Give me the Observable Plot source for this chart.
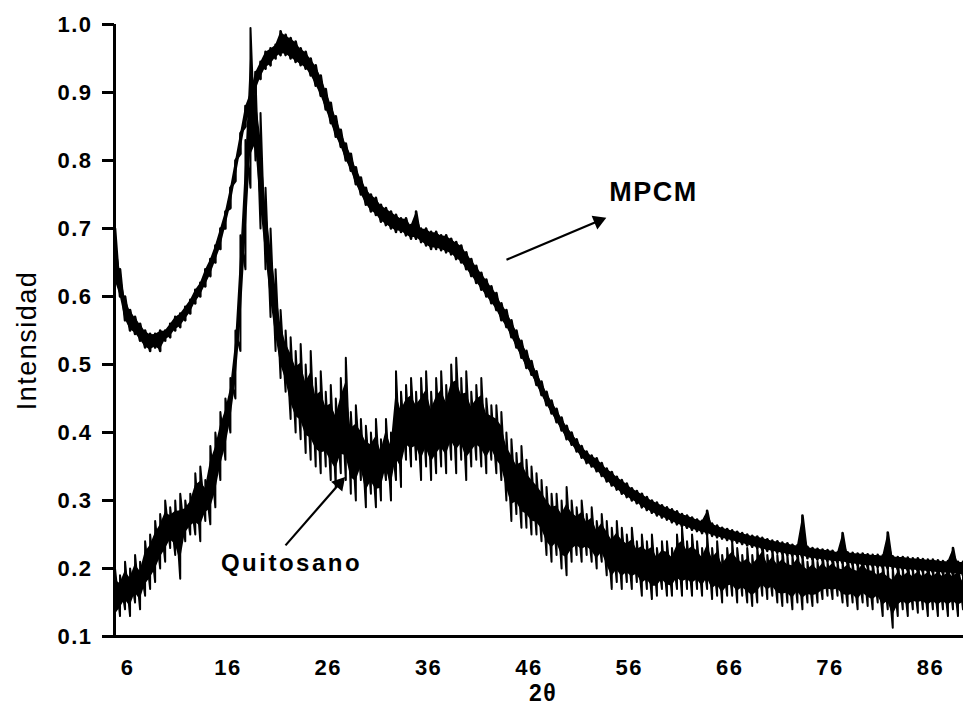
<!DOCTYPE html>
<html><head><meta charset="utf-8">
<script src="https://cdn.jsdelivr.net/npm/d3@7"></script>
<script src="https://cdn.jsdelivr.net/npm/@observablehq/plot@0.6"></script>
<style>body{margin:0;background:#fff;}</style>
</head><body><div id="chart"></div>
<script>
// 2θ sample positions
const twoTheta = [
4.75,5.25,5.75,6.25,6.75,7.25,7.75,8.25,8.75,9.25,
9.75,10.25,10.75,11.25,11.75,12.25,12.75,13.25,13.75,14.25,
14.75,15.25,15.75,16.25,16.75,17.25,17.75,18.25,18.75,19.25,
19.75,20.25,20.75,21.25,21.75,22.25,22.75,23.25,23.75,24.25,
24.75,25.25,25.75,26.25,26.75,27.25,27.75,28.25,28.75,29.25,
29.75,30.25,30.75,31.25,31.75,32.25,32.75,33.25,33.75,34.25,
34.75,35.25,35.75,36.25,36.75,37.25,37.75,38.25,38.75,39.25,
39.75,40.25,40.75,41.25,41.75,42.25,42.75,43.25,43.75,44.25,
44.75,45.25,45.75,46.25,46.75,47.25,47.75,48.25,48.75,49.25,
49.75,50.25,50.75,51.25,51.75,52.25,52.75,53.25,53.75,54.25,
54.75,55.25,55.75,56.25,56.75,57.25,57.75,58.25,58.75,59.25,
59.75,60.25,60.75,61.25,61.75,62.25,62.75,63.25,63.75,64.25,
64.75,65.25,65.75,66.25,66.75,67.25,67.75,68.25,68.75,69.25,
69.75,70.25,70.75,71.25,71.75,72.25,72.75,73.25,73.75,74.25,
74.75,75.25,75.75,76.25,76.75,77.25,77.75,78.25,78.75,79.25,
79.75,80.25,80.75,81.25,81.75,82.25,82.75,83.25,83.75,84.25,
84.75,85.25,85.75,86.25,86.75,87.25,87.75,88.25,88.75,89.25];

// Quitosano: lower / upper edge of the noisy trace
const quitosanoLow = [
0.115,0.13,0.14,0.13,0.15,0.14,0.16,0.17,0.18,0.20,
0.21,0.23,0.22,0.185,0.24,0.25,0.25,0.24,0.27,0.265,
0.29,0.33,0.36,0.40,0.45,0.52,0.64,0.76,0.80,0.70,
0.64,0.57,0.52,0.48,0.46,0.42,0.40,0.39,0.37,0.36,
0.35,0.34,0.35,0.33,0.32,0.34,0.33,0.31,0.30,0.33,
0.29,0.31,0.29,0.30,0.33,0.30,0.33,0.32,0.36,0.35,
0.36,0.33,0.35,0.33,0.34,0.35,0.34,0.36,0.34,0.36,
0.33,0.35,0.36,0.35,0.34,0.36,0.34,0.33,0.30,0.27,
0.28,0.26,0.26,0.25,0.25,0.24,0.22,0.21,0.22,0.20,
0.19,0.21,0.22,0.21,0.22,0.21,0.20,0.21,0.19,0.17,
0.18,0.17,0.18,0.17,0.18,0.16,0.17,0.155,0.16,0.17,
0.16,0.16,0.17,0.16,0.17,0.16,0.17,0.16,0.17,0.155,
0.16,0.15,0.16,0.16,0.15,0.16,0.15,0.145,0.15,0.16,
0.155,0.16,0.15,0.145,0.15,0.14,0.15,0.14,0.15,0.145,
0.15,0.155,0.16,0.155,0.16,0.15,0.145,0.15,0.14,0.15,
0.145,0.14,0.15,0.13,0.14,0.113,0.13,0.14,0.13,0.14,
0.135,0.14,0.13,0.14,0.13,0.14,0.13,0.14,0.13,0.14];
const quitosanoHigh = [
0.20,0.19,0.21,0.20,0.22,0.21,0.24,0.25,0.27,0.28,
0.30,0.29,0.30,0.31,0.30,0.31,0.34,0.35,0.33,0.38,
0.40,0.43,0.45,0.48,0.55,0.69,0.83,0.995,0.92,0.87,
0.76,0.70,0.64,0.58,0.55,0.54,0.52,0.53,0.50,0.52,
0.48,0.49,0.46,0.47,0.45,0.48,0.51,0.43,0.44,0.42,
0.41,0.40,0.42,0.39,0.42,0.40,0.49,0.46,0.47,0.48,
0.46,0.48,0.49,0.46,0.48,0.49,0.47,0.50,0.51,0.48,
0.49,0.46,0.47,0.48,0.45,0.44,0.44,0.43,0.40,0.39,
0.37,0.38,0.36,0.35,0.34,0.33,0.32,0.31,0.31,0.30,
0.32,0.30,0.29,0.30,0.28,0.29,0.27,0.28,0.27,0.26,
0.27,0.26,0.25,0.26,0.24,0.25,0.24,0.25,0.23,0.24,
0.24,0.23,0.25,0.26,0.24,0.25,0.24,0.23,0.25,0.23,
0.24,0.22,0.23,0.24,0.23,0.22,0.23,0.22,0.23,0.24,
0.22,0.23,0.22,0.23,0.22,0.22,0.23,0.22,0.21,0.22,
0.21,0.22,0.21,0.22,0.21,0.21,0.22,0.21,0.21,0.22,
0.21,0.21,0.20,0.21,0.20,0.20,0.21,0.20,0.21,0.20,
0.21,0.20,0.21,0.20,0.21,0.20,0.21,0.20,0.21,0.19];

// MPCM: lower / upper edge of the noisy trace
const mpcmLow = [
0.62,0.60,0.565,0.55,0.545,0.535,0.525,0.52,0.525,0.52,
0.535,0.54,0.55,0.555,0.565,0.575,0.59,0.60,0.615,0.63,
0.65,0.67,0.70,0.73,0.77,0.81,0.85,0.87,0.90,0.92,
0.935,0.94,0.95,0.955,0.955,0.95,0.945,0.94,0.935,0.925,
0.91,0.895,0.875,0.855,0.835,0.82,0.80,0.785,0.765,0.75,
0.735,0.725,0.72,0.71,0.705,0.70,0.695,0.695,0.69,0.685,
0.685,0.68,0.675,0.67,0.67,0.668,0.665,0.662,0.655,0.65,
0.64,0.63,0.62,0.61,0.60,0.59,0.58,0.565,0.555,0.54,
0.525,0.51,0.495,0.485,0.47,0.455,0.44,0.428,0.415,0.403,
0.39,0.382,0.372,0.363,0.355,0.35,0.343,0.336,0.328,0.322,
0.316,0.31,0.305,0.30,0.296,0.29,0.286,0.282,0.278,0.275,
0.272,0.268,0.265,0.262,0.26,0.257,0.255,0.252,0.25,0.248,
0.246,0.244,0.242,0.24,0.238,0.236,0.234,0.232,0.23,0.228,
0.226,0.225,0.223,0.222,0.22,0.219,0.218,0.216,0.215,0.214,
0.213,0.212,0.211,0.21,0.209,0.208,0.207,0.206,0.205,0.204,
0.203,0.203,0.202,0.201,0.2,0.2,0.199,0.198,0.197,0.197,
0.196,0.195,0.195,0.194,0.193,0.193,0.192,0.191,0.19,0.19];
const mpcmHigh = [
0.70,0.64,0.60,0.58,0.57,0.56,0.55,0.545,0.545,0.55,
0.55,0.56,0.57,0.575,0.585,0.595,0.61,0.62,0.64,0.655,
0.675,0.70,0.725,0.76,0.80,0.84,0.88,0.90,0.93,0.945,
0.96,0.965,0.97,0.99,0.985,0.98,0.975,0.965,0.96,0.95,
0.94,0.925,0.905,0.885,0.865,0.845,0.825,0.81,0.79,0.775,
0.76,0.75,0.745,0.735,0.73,0.725,0.72,0.715,0.715,0.705,
0.725,0.70,0.70,0.695,0.695,0.69,0.69,0.685,0.68,0.675,
0.665,0.655,0.645,0.635,0.625,0.615,0.605,0.59,0.58,0.565,
0.55,0.535,0.52,0.505,0.49,0.475,0.46,0.447,0.435,0.422,
0.41,0.40,0.39,0.38,0.372,0.366,0.362,0.355,0.347,0.342,
0.335,0.33,0.325,0.318,0.314,0.31,0.305,0.30,0.297,0.293,
0.29,0.287,0.284,0.28,0.278,0.275,0.272,0.27,0.285,0.266,
0.263,0.26,0.258,0.256,0.254,0.252,0.25,0.248,0.247,0.245,
0.243,0.241,0.24,0.238,0.237,0.235,0.234,0.278,0.232,0.23,
0.229,0.228,0.227,0.226,0.224,0.252,0.224,0.223,0.222,0.222,
0.221,0.22,0.22,0.219,0.253,0.218,0.217,0.217,0.216,0.215,
0.215,0.214,0.213,0.213,0.212,0.211,0.211,0.23,0.21,0.21];

const xTicks = [6,16,26,36,46,56,66,76,86];
const yTicks = [0.1,0.2,0.3,0.4,0.5,0.6,0.7,0.8,0.9,1.0];

// annotations
const noteLabels = ["MPCM","Quitosano"];
const noteX = [58.4, 22.34];
const noteY = [0.753, 0.207];
const arrowX1 = [43.76, 21.74];
const arrowY1 = [0.654, 0.234];
const arrowX2 = [52.92, 27.12];
const arrowY2 = [0.711, 0.325];
const arrowAngle = [67.5, 41];

function zig(lo, hi) {
  const pts = [];
  const n = Math.min(twoTheta.length, lo.length, hi.length);
  for (let i = 0; i < n; i++) {
    pts.push({x: twoTheta[i], y: lo[i]});
    pts.push({x: twoTheta[i], y: hi[i]});
  }
  return pts;
}
function band(lo, hi, inset) {
  const n = Math.min(twoTheta.length, lo.length, hi.length);
  return d3.range(n).map(i => {
    const d = hi[i] - lo[i];
    return {x: twoTheta[i], y1: lo[i] + inset * d, y2: hi[i] - inset * d};
  });
}
const idx = [0, 1];

const plot = Plot.plot({
  width: 963, height: 708,
  marginLeft: 114, marginRight: 0, marginTop: 24, marginBottom: 72,
  style: {fontFamily: "'Liberation Sans', Arial, sans-serif", background: "white", color: "black", overflow: "visible"},
  x: {domain: [4.7, 89.3]},
  y: {domain: [0.1, 1.0]},
  marks: [
    Plot.areaY(band(mpcmLow, mpcmHigh, 0.05), {x: "x", y1: "y1", y2: "y2", fill: "black"}),
    Plot.line(zig(mpcmLow, mpcmHigh), {x: "x", y: "y", stroke: "black", strokeWidth: 2.6}),
    Plot.areaY(band(quitosanoLow, quitosanoHigh, 0.2), {x: "x", y1: "y1", y2: "y2", fill: "black"}),
    Plot.line(zig(quitosanoLow, quitosanoHigh), {x: "x", y: "y", stroke: "black", strokeWidth: 2}),
    Plot.axisY({ticks: yTicks, tickFormat: d => d.toFixed(1), tickSize: 12, tickPadding: 10, strokeWidth: 3, fontSize: 22, fontWeight: "bold", label: null}),
    Plot.axisX({ticks: xTicks, tickSize: 0, tickPadding: 23, fontSize: 22, fontWeight: "bold", label: null}),
    Plot.ruleY([0.1], {strokeWidth: 3}),
    Plot.ruleX([4.7], {strokeWidth: 3}),
    Plot.text(["Intensidad"], {frameAnchor: "left", textAnchor: "middle", rotate: -90, dx: -87, dy: 10, fontSize: 27}),
    Plot.text(["2θ"], {frameAnchor: "bottom", dx: 4, dy: 64, fontSize: 23, fontWeight: "bold"}),
    Plot.link(idx, {x1: i => arrowX1[i], y1: i => arrowY1[i], x2: i => arrowX2[i], y2: i => arrowY2[i], stroke: "black", strokeWidth: 2.2}),
    Plot.dot(idx, {x: i => arrowX2[i], y: i => arrowY2[i], symbol: "triangle", rotate: i => arrowAngle[i], r: 5.5, fill: "black", stroke: "none"}),
    Plot.text(idx, {x: i => noteX[i], y: i => noteY[i], text: i => noteLabels[i], fontSize: i => [27, 24][i], fontWeight: "bold"})
  ]
});
document.getElementById("chart").appendChild(plot);
d3.select(plot).selectAll("text").each(function() {
  const t = this.textContent;
  if (t === "Quitosano") this.style.letterSpacing = "2.5px";
  else this.style.letterSpacing = "1.5px";
});
</script>
</body></html>
